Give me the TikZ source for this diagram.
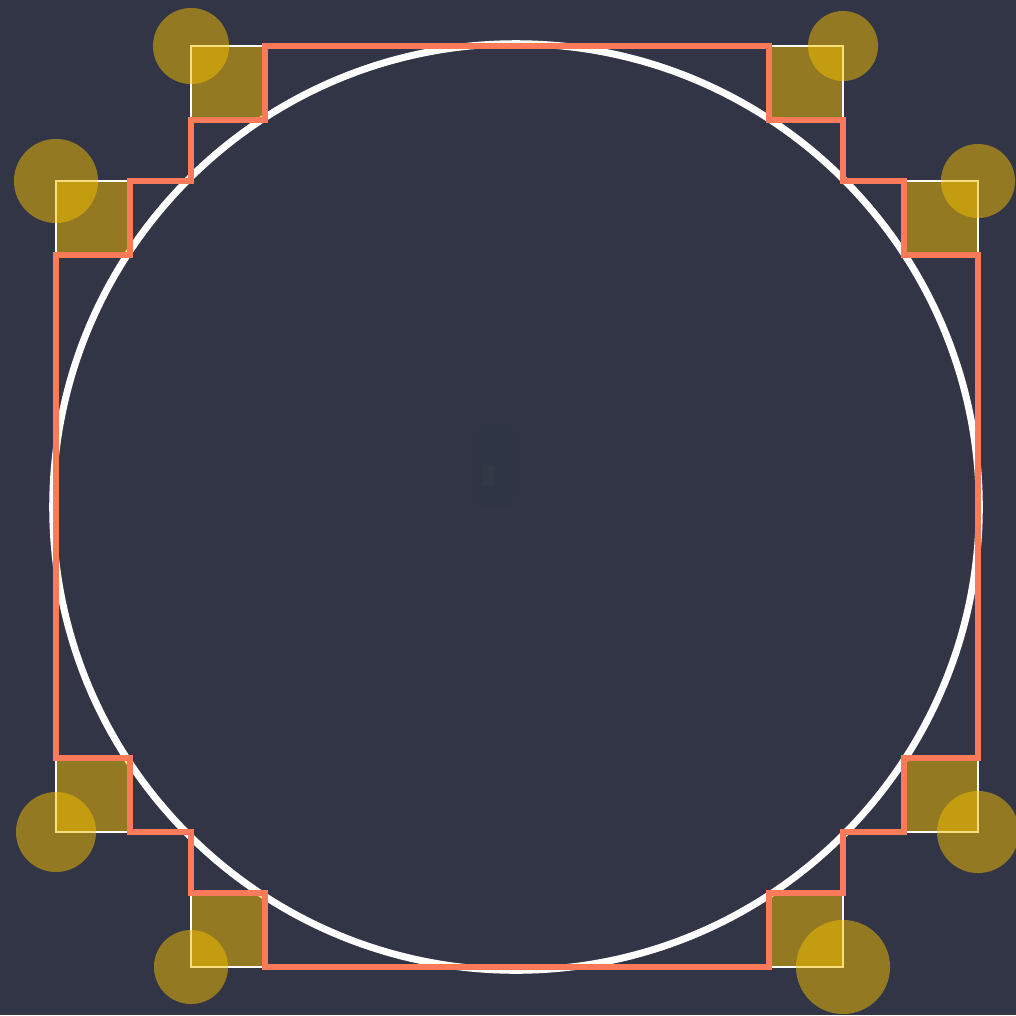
\documentclass[tikz,border=0pt]{standalone}
\usepackage{xcolor}
\usepackage{tikz}

\definecolor{fondo}{RGB}{50,53,70}
\definecolor{oro}{RGB}{244,191,0}
\definecolor{coral}{RGB}{250,122,90}
\definecolor{marca}{RGB}{48,53,69}
\definecolor{marcab}{RGB}{51,56,71}

\begin{document}
\begin{tikzpicture}[
  x=0.01cm, y=-0.01cm,
  circulo/.style={draw=white, line width=0.7mm},
  celda/.style={draw=white, line width=0.15mm, fill=oro, fill opacity=0.5},
  punto/.style={fill=oro, opacity=0.5},
  borde/.style={draw=coral, line width=0.55mm, line join=miter}
]
\fill[fondo] (0,0) rectangle (1016,1015);
\useasboundingbox (0,0) rectangle (1016,1015);

% marca central apenas visible
\fill[marca, rounded corners=0.5mm] (473,423) rectangle (514,507);
\fill[marcab] (483,465) rectangle (494,486);

% circulo blanco
\draw[circulo] (516,507) circle[radius=4.63cm];

% celdas de las esquinas
\draw[celda] (191,46) rectangle (265,120);
\draw[celda] (769,46) rectangle (843,120);
\draw[celda] (56,181) rectangle (130,255);
\draw[celda] (904,181) rectangle (978,255);
\draw[celda] (56,758) rectangle (130,832);
\draw[celda] (904,758) rectangle (978,832);
\draw[celda] (191,893) rectangle (265,967);
\draw[celda] (769,893) rectangle (843,967);

% puntos
\fill[punto] (191,46) circle[radius=0.38cm];
\fill[punto] (843,46) circle[radius=0.35cm];
\fill[punto] (56,181) circle[radius=0.42cm];
\fill[punto] (978,181) circle[radius=0.37cm];
\fill[punto] (56,832) circle[radius=0.40cm];
\fill[punto] (978,832) circle[radius=0.41cm];
\fill[punto] (191,967) circle[radius=0.37cm];
\fill[punto] (843,967) circle[radius=0.47cm];

% contorno escalonado
\draw[borde] (265,46) -- (769,46) -- (769,120) -- (843,120) -- (843,181)
  -- (904,181) -- (904,255) -- (978,255) -- (978,758) -- (904,758)
  -- (904,832) -- (843,832) -- (843,893) -- (769,893) -- (769,967)
  -- (265,967) -- (265,893) -- (191,893) -- (191,832) -- (130,832)
  -- (130,758) -- (56,758) -- (56,255) -- (130,255) -- (130,181)
  -- (191,181) -- (191,120) -- (265,120) -- cycle;
\end{tikzpicture}
\end{document}
